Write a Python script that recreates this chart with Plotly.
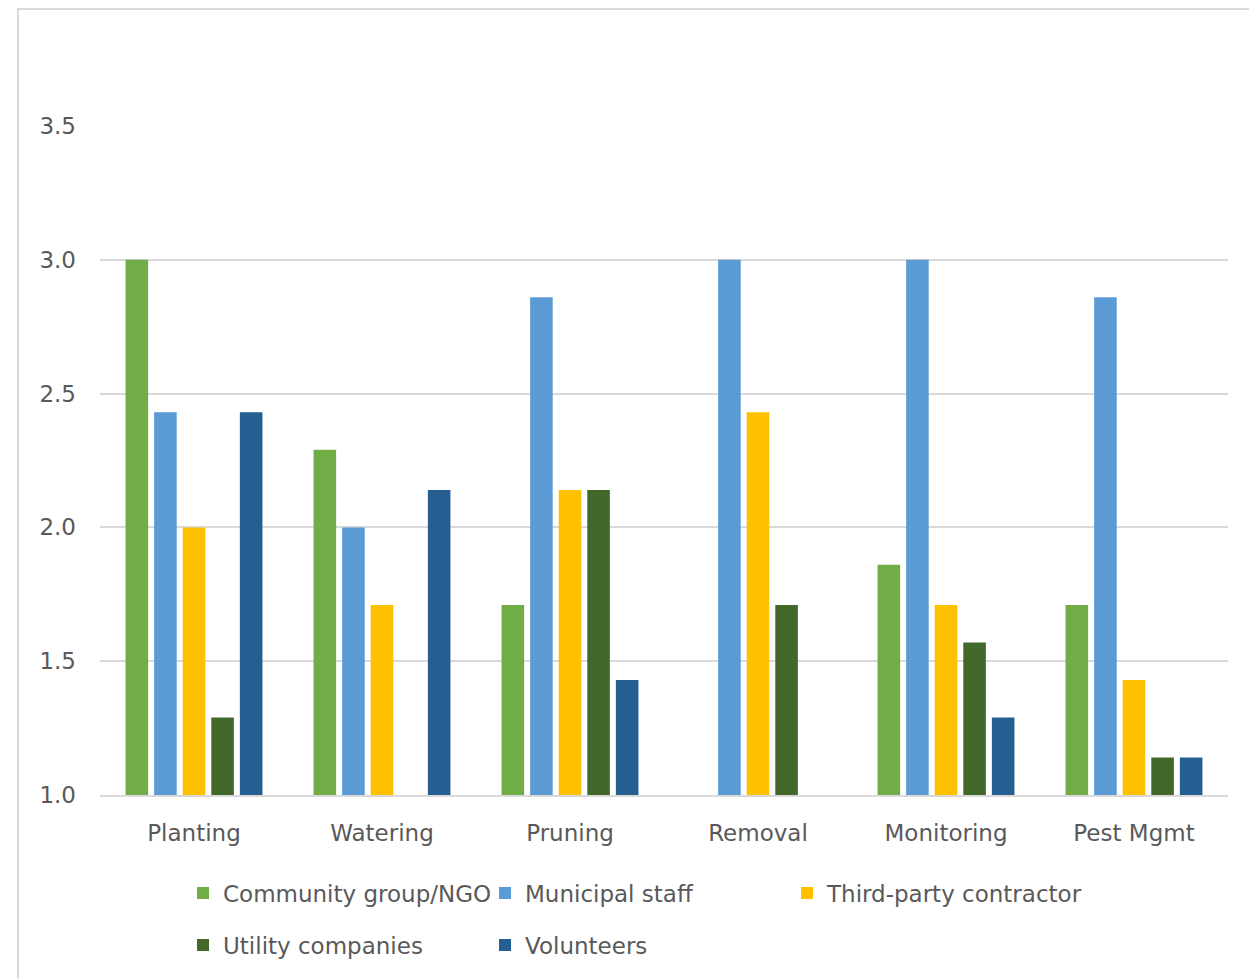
import plotly.graph_objects as go

# Tasks on the x axis
tasks = ["Planting", "Watering", "Pruning", "Removal", "Monitoring", "Pest Mgmt"]

# Mean scores per group of actors (None = no response)
community_ngo = [3.00, 2.29, 1.71, None, 1.86, 1.71]
municipal_staff = [2.43, 2.00, 2.86, 3.00, 3.00, 2.86]
third_party = [2.00, 1.71, 2.14, 2.43, 1.71, 1.43]
utility_companies = [1.29, None, 2.14, 1.71, 1.57, 1.14]
volunteers = [2.43, 2.14, 1.43, None, 1.29, 1.14]

y_ticks = [1.0, 1.5, 2.0, 2.5, 3.0, 3.5]

series = [
    ("Community group/NGO", community_ngo, "#70AD47", "legend"),
    ("Municipal staff", municipal_staff, "#5B9BD5", "legend"),
    ("Third-party contractor", third_party, "#FFC000", "legend"),
    ("Utility companies", utility_companies, "#43682B", "legend2"),
    ("Volunteers", volunteers, "#255E91", "legend2"),
]

W, H = 1249, 979
L, R, T, B = 100, 21, 126, 184
plot_w = W - L - R
plot_h = H - T - B

fig = go.Figure()
for name, vals, color, leg in series:
    fig.add_trace(go.Bar(
        x=tasks, y=vals, name=name, marker_color=color,
        marker_line_width=0, legend=leg,
    ))

font_family = "DejaVu Sans, sans-serif"
grey = "#595959"
fsize = 23


def px_x(p):
    return (p - L) / plot_w


def px_y(p):
    return 1 - (p - T) / plot_h


legend_common = dict(
    orientation="h", xanchor="left", yanchor="middle",
    font=dict(family=font_family, size=fsize, color=grey),
    entrywidth=257, entrywidthmode="pixels",
    itemwidth=30, bgcolor="rgba(0,0,0,0)", traceorder="normal",
)

fig.update_layout(
    width=W, height=H,
    margin=dict(l=L, r=R, t=T, b=B),
    paper_bgcolor="white", plot_bgcolor="white",
    barmode="group", bargap=0.24, bargroupgap=0.21,
    font=dict(family=font_family, size=fsize, color=grey),
    xaxis=dict(
        showgrid=False, showline=True, linecolor="#d9d9d9", linewidth=2,
        ticks="", ticklabelstandoff=16,
        tickfont=dict(family=font_family, size=fsize, color=grey),
    ),
    yaxis=dict(
        range=[1, 3.5001], tickvals=y_ticks,
        ticktext=[f"{v:.1f}" for v in y_ticks],
        showgrid=True, gridcolor="#d9d9d9", gridwidth=2,
        zeroline=False, showline=False, ticks="", ticklabelstandoff=23,
        tickfont=dict(family=font_family, size=fsize, color=grey),
    ),
    legend=dict(x=px_x(183), y=px_y(893), **legend_common),
    legend2=dict(x=px_x(183), y=px_y(945), **legend_common),
    shapes=[dict(
        type="rect", xref="paper", yref="paper",
        x0=px_x(18), x1=px_x(W + 20), y0=px_y(H + 20), y1=px_y(9),
        line=dict(color="#d9d9d9", width=2), fillcolor="rgba(0,0,0,0)",
        layer="below",
    )],
)

fig.write_html("out.html")
